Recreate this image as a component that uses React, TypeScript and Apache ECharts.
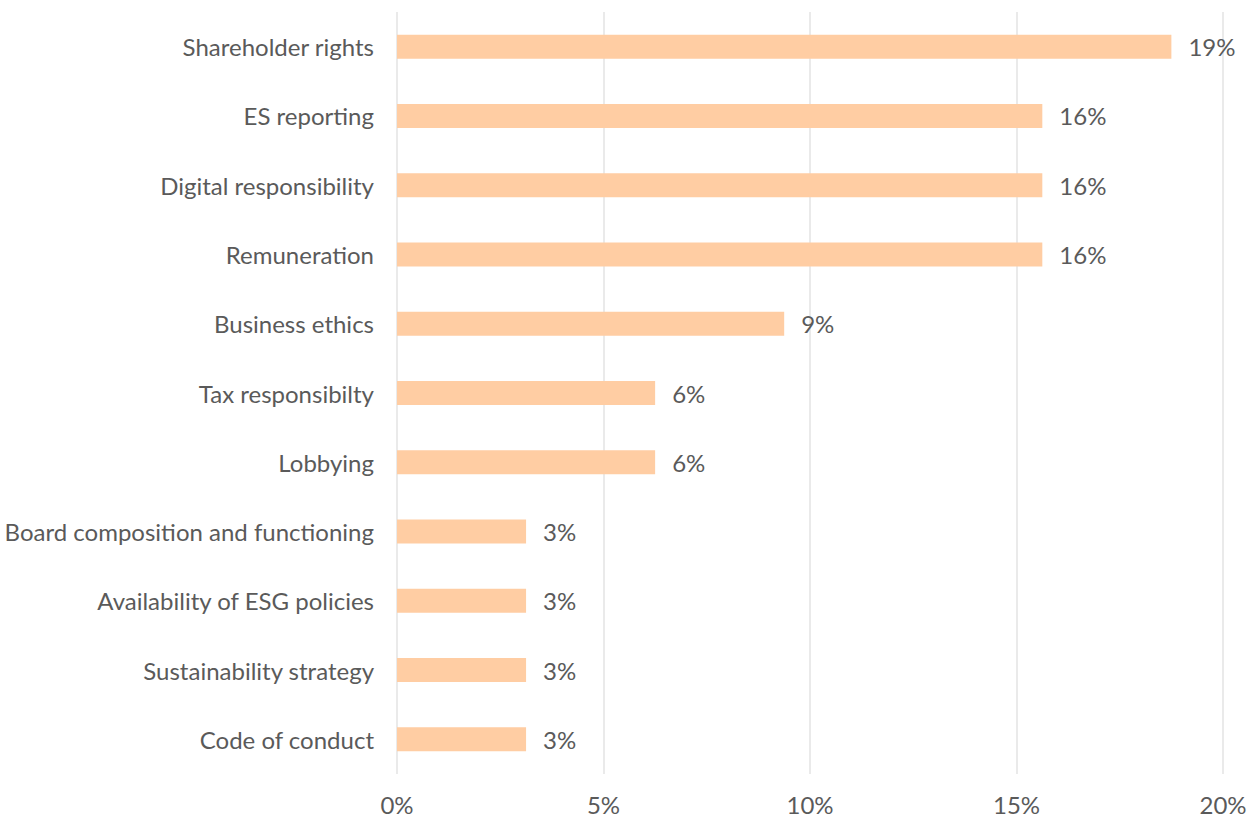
import React, { useEffect, useRef } from "react";
import * as echarts from "echarts";

const categories = [
  "Shareholder rights",
  "ES reporting",
  "Digital responsibility",
  "Remuneration",
  "Business ethics",
  "Tax responsibilty",
  "Lobbying",
  "Board composition and functioning",
  "Availability of ESG policies",
  "Sustainability strategy",
  "Code of conduct",
];
const values = [18.75, 15.625, 15.625, 15.625, 9.375, 6.25, 6.25, 3.125, 3.125, 3.125, 3.125];
const xTicks = [0, 5, 10, 15, 20];

const FONT = "Lato";
const TEXT = "#5a5a5a";
const FS = 24;

export default function App() {
  const ref = useRef<HTMLDivElement>(null);
  useEffect(() => {
    if (!ref.current) return;
    const chart = echarts.init(ref.current, undefined, { renderer: "svg" });
    chart.setOption({
      animation: false,
      grid: { left: 397, right: 32, top: 12, bottom: 45, containLabel: false },
      xAxis: {
        type: "value",
        min: xTicks[0],
        max: xTicks[xTicks.length - 1],
        interval: 5,
        axisLine: { show: false },
        axisTick: { show: false },
        splitLine: { show: true, lineStyle: { color: "#e3e3e3", width: 1.5 } },
        axisLabel: {
          color: TEXT,
          fontFamily: FONT,
          fontSize: FS,
          margin: 18,
          formatter: (v: number) => `${v}%`,
        },
      },
      yAxis: {
        type: "category",
        data: categories,
        inverse: true,
        axisLine: { show: false },
        axisTick: { show: false },
        splitLine: { show: false },
        axisLabel: { color: TEXT, fontFamily: FONT, fontSize: FS, margin: 23 },
      },
      series: [
        {
          type: "bar",
          data: values,
          barWidth: 24,
          itemStyle: { color: "#FFCDA3" },
          label: {
            show: true,
            position: "right",
            distance: 17,
            color: TEXT,
            fontFamily: FONT,
            fontSize: FS,
            formatter: (p: any) => `${Math.round(p.value)}%`,
          },
        },
      ],
    });
    return () => chart.dispose();
  }, []);
  return (
    <div
      ref={ref}
      style={{ position: "absolute", left: 0, top: 0, width: 1255, height: 819 }}
    />
  );
}
